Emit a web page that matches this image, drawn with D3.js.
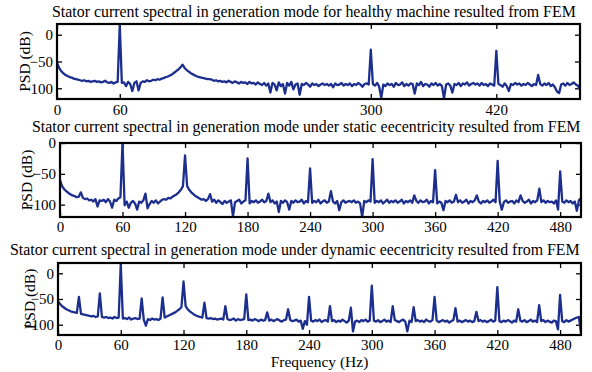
<!DOCTYPE html>
<html>
<head>
<meta charset="utf-8">
<script src="https://cdnjs.cloudflare.com/ajax/libs/d3/7.8.5/d3.min.js"></script>
<style>
    body { margin: 0; background: #fff; }
</style>
</head>
<body>
<div id="chart"></div>
<script>

var serifFont = "'Liberation Serif', Tinos, 'Times New Roman', 'DejaVu Serif', serif";

// frequency bins (Hz), one every 2 Hz from 0 to 500
var freqHz = d3.range(0, 501, 2);

var titles = [
    "Stator current spectral in generation mode for healthy machine resulted from FEM",
    "Stator current spectral in generation mode under static eecentricity resulted from FEM",
    "Stator current spectral in generation mode under dynamic eecentricity resulted from FEM"
];

var xTicksHealthy = [0, 60, 300, 420];
var xTicksFault = [0, 60, 120, 180, 240, 300, 360, 420, 480];
var yTicks = [0, -50, -100];

// PSD (dB), 10 bins (20 Hz) per row
var psdHealthy = [
    -52, -62, -68, -72, -75, -77, -79, -80, -82, -83,
    -84, -85, -86, -85, -87, -86, -88, -87, -86, -88,
    -87, -89, -88, -86, -89, -90, -88, -91, -89, -88,
     18, -90, -89, -96, -88, -92, -105, -90, -87, -104,
    -90, -87, -88, -85, -87, -86, -84, -85, -83, -84,
    -82, -81, -79, -78, -76, -74, -71, -68, -65, -61,
    -56, -62, -66, -69, -72, -74, -76, -78, -79, -80,
    -81, -82, -83, -83, -84, -86, -85, -87, -86, -88,
    -87, -89, -86, -88, -90, -87, -89, -91, -88, -90,
    -89, -92, -88, -91, -90, -93, -89, -92, -94, -90,
    -95, -91, -108, -90, -93, -104, -89, -96, -92, -110,
    -90, -95, -88, -102, -93, -91, -112, -92, -94, -90,
    -93, -97, -91, -94, -92, -96, -93, -91, -94, -92,
    -95, -92, -98, -91, -94, -93, -90, -95, -92, -94,
    -91, -96, -92, -94, -90, -93, -97, -92, -91, -93,
    -28, -92, -95, -90, -97, -118, -93, -96, -91, -94,
    -92, -97, -90, -94, -93, -89, -96, -92, -95, -91,
    -92, -110, -91, -94, -88, -96, -92, -93, -97, -91,
    -94, -90, -95, -92, -96, -119, -93, -91, -95, -108,
    -92, -94, -90, -96, -91, -93, -89, -95, -92, -90,
    -93, -91, -95, -90, -94, -92, -96, -91, -93, -95,
    -30, -92, -94, -97, -91, -96, -105, -92, -94, -90,
    -93, -91, -95, -92, -94, -90, -93, -96, -92, -94,
    -75, -92, -95, -91, -94, -90, -96, -93, -98, -106,
    -109, -93, -91, -95, -90, -94, -92, -89, -93, -95,
    -102
];

var psdStatic = [
    -60, -70, -75, -78, -81, -83, -85, -86, -88, -87,
    -80, -89, -91, -90, -93, -92, -95, -91, -103, -93,
    -94, -92, -96, -91, -95, -105, -92, -94, -90, -88,
      0, -101, -95, -105, -97, -94, -98, -108, -95, -97,
    -93, -82, -106, -99, -94, -97, -93, -98, -95, -92,
    -91, -92, -89, -90, -87, -85, -83, -80, -76, -70,
    -20, -70, -76, -80, -83, -86, -88, -90, -92, -91,
    -94, -91, -83, -95, -92, -97, -93, -96, -99, -94,
    -97, -95, -93, -119, -96, -94, -92, -98, -95, -93,
    -25, -98, -94, -96, -93, -97, -95, -92, -96, -94,
    -82, -96, -93, -98, -95, -112, -94, -97, -93, -96,
    -108, -94, -97, -93, -96, -95, -92, -98, -94, -96,
    -41, -97, -94, -96, -92, -98, -95, -93, -97, -95,
    -78, -95, -98, -94, -109, -96, -93, -97, -95, -94,
    -96, -93, -97, -95, -98, -120, -94, -96, -93, -95,
    -26, -97, -94, -96, -93, -98, -95, -92, -97, -94,
    -96, -93, -97, -95, -92, -98, -94, -96, -93, -97,
    -85, -94, -97, -93, -96, -95, -92, -98, -94, -96,
    -44, -98, -95, -97, -109, -94, -96, -93, -97, -95,
    -84, -96, -93, -97, -95, -92, -98, -94, -96, -93,
    -85, -95, -98, -94, -96, -93, -97, -95, -92, -96,
    -29, -95, -108, -96, -93, -97, -95, -94, -98, -93,
    -96, -85, -94, -97, -95, -92, -98, -94, -96, -93,
    -74, -96, -93, -97, -94, -96, -95, -98, -93, -108,
    -46, -95, -97, -93, -96, -94, -98, -95, -110, -93,
    -89
];

var psdDynamic = [
    -54, -60, -64, -67, -70, -72, -74, -75, -76, -77,
    -46, -79, -80, -81, -82, -83, -84, -83, -85, -84,
    -39, -85, -86, -85, -87, -86, -88, -85, -87, -86,
     18, -88, -87, -89, -86, -90, -88, -87, -89, -88,
    -49, -90, -102, -89, -91, -88, -90, -89, -91, -88,
    -47, -86, -84, -82, -80, -78, -76, -73, -70, -66,
    -16, -64, -70, -74, -77, -80, -82, -84, -85, -86,
    -57, -87, -88, -87, -89, -88, -90, -89, -88, -90,
    -64, -89, -91, -90, -88, -92, -89, -91, -90, -89,
    -41, -91, -90, -92, -89, -91, -93, -90, -92, -91,
    -76, -92, -90, -93, -91, -89, -92, -94, -91, -90,
    -70, -91, -93, -92, -90, -94, -92, -108, -93, -100,
    -46, -92, -94, -91, -93, -90, -95, -92, -91, -94,
    -64, -93, -91, -95, -92, -94, -90, -93, -96, -92,
    -67, -113, -94, -92, -95, -91, -93, -90, -94, -92,
    -24, -92, -94, -91, -95, -93, -90, -94, -92, -95,
    -64, -91, -93, -95, -92, -90, -94, -113, -92, -95,
    -66, -93, -91, -94, -92, -95, -90, -93, -94, -91,
    -46, -92, -95, -93, -91, -94, -92, -96, -93, -91,
    -68, -94, -92, -95, -93, -91, -94, -92, -95, -93,
    -75, -93, -91, -94, -92, -95, -93, -90, -94, -92,
    -27, -93, -95, -92, -94, -91, -93, -96, -92, -94,
    -70, -92, -94, -91, -95, -93, -90, -94, -92, -95,
    -62, -93, -91, -95, -92, -94, -96, -92, -93, -109,
    -42, -93, -95, -91, -94, -92, -90, -88, -86, -85,
    -116
];


/*
 * SpectrumChart - one PSD panel (boxed axes, MATLAB style)
 * @param _svg      -- d3 selection of the svg to draw in
 * @param _data     -- array of PSD values, one per freqHz bin
 * @param _config   -- title, ticks, domain and box position
 */

SpectrumChart = function(_svg, _data, _config){
    this.svg = _svg;
    this.data = _data;
    this.config = _config;

    this.initVis();
}

SpectrumChart.prototype.initVis = function() {
    var vis = this;
    var c = vis.config;

    vis.width = c.right - c.left;
    vis.height = c.bottom - c.top;

    vis.g = vis.svg.append("g")
        .attr("transform", "translate(" + c.left + "," + c.top + ")");

    vis.x = d3.scaleLinear().domain([0, 500]).range([0, vis.width]);
    vis.y = d3.scaleLinear().domain(c.yDomain).range([vis.height, 0]);

    vis.g.append("clipPath")
        .attr("id", "clip-" + c.id)
        .append("rect")
        .attr("width", vis.width)
        .attr("height", vis.height);

    /*** AXES (ticks point inwards, labels only bottom/left) */
    vis.g.append("g")
        .attr("class", "axis")
        .attr("transform", "translate(0," + vis.height + ")")
        .call(d3.axisBottom(vis.x).tickValues(c.xTicks).tickSizeInner(-5).tickSizeOuter(0).tickPadding(c.xPad));

    vis.g.append("g")
        .attr("class", "axis")
        .call(d3.axisTop(vis.x).tickValues(c.xTicks).tickSizeInner(-5).tickSizeOuter(0).tickFormat(""));

    vis.g.append("g")
        .attr("class", "axis")
        .call(d3.axisLeft(vis.y).tickValues(yTicks).tickSizeInner(-5).tickSizeOuter(0).tickPadding(4));

    vis.g.append("g")
        .attr("class", "axis")
        .attr("transform", "translate(" + vis.width + ",0)")
        .call(d3.axisRight(vis.y).tickValues(yTicks).tickSizeInner(-5).tickSizeOuter(0).tickFormat(""));

    vis.g.selectAll(".axis .domain").remove();
    vis.g.selectAll(".axis").attr("font-family", serifFont).attr("font-size", 15);
    vis.g.selectAll(".axis line").attr("stroke", "#000").attr("stroke-width", 1.3);
    vis.g.selectAll(".axis text")
        .style("font-family", serifFont)
        .style("font-size", "15px")
        .attr("fill", "#000");

    // title and y label
    vis.svg.append("text")
        .attr("x", c.titleX)
        .attr("y", c.titleY)
        .style("font-family", serifFont)
        .style("font-size", "15.9px")
        .text(c.title);

    vis.svg.append("text")
        .attr("transform", "translate(" + c.labelX + "," + (c.top + vis.height / 2) + ") rotate(-90)")
        .attr("text-anchor", "middle")
        .attr("dy", "0.35em")
        .style("font-family", serifFont)
        .style("font-size", "15.5px")
        .text("PSD (dB)");

    vis.updateVis();
}

SpectrumChart.prototype.updateVis = function() {
    var vis = this;

    var line = d3.line()
        .x(function(d, i) { return vis.x(freqHz[i]); })
        .y(function(d) { return vis.y(d); });

    vis.g.append("path")
        .datum(vis.data)
        .attr("clip-path", "url(#clip-" + vis.config.id + ")")
        .attr("fill", "none")
        .attr("stroke", "#1d2f8e")
        .attr("stroke-width", 2.3)
        .attr("stroke-linejoin", "round")
        .attr("d", line);

    // box drawn last so it sits over the trace
    vis.g.append("rect")
        .attr("width", vis.width)
        .attr("height", vis.height)
        .attr("fill", "none")
        .attr("stroke", "#000")
        .attr("stroke-width", 2.2);
}


var svg = d3.select("#chart").append("svg")
    .attr("width", 592)
    .attr("height", 372)
    .attr("font-family", serifFont);

new SpectrumChart(svg, psdHealthy, {
    id: "healthy", title: titles[0], xTicks: xTicksHealthy, yDomain: [-120, 20],
    left: 57, right: 580, top: 24, bottom: 99, titleX: 52, titleY: 17, labelX: 25, xPad: 5
});

new SpectrumChart(svg, psdStatic, {
    id: "static", title: titles[1], xTicks: xTicksFault, yDomain: [-120, 0],
    left: 60, right: 581, top: 143, bottom: 217, titleX: 32, titleY: 132, labelX: 27, xPad: 4
});

new SpectrumChart(svg, psdDynamic, {
    id: "dynamic", title: titles[2], xTicks: xTicksFault, yDomain: [-120, 20],
    left: 58, right: 581, top: 263, bottom: 335, titleX: 10, titleY: 255, labelX: 30, xPad: 4
});

svg.append("text")
    .attr("x", 319.5)
    .attr("y", 367)
    .attr("text-anchor", "middle")
    .style("font-family", serifFont)
    .style("font-size", "15.5px")
    .text("Frequency (Hz)");

</script>
</body>
</html>
